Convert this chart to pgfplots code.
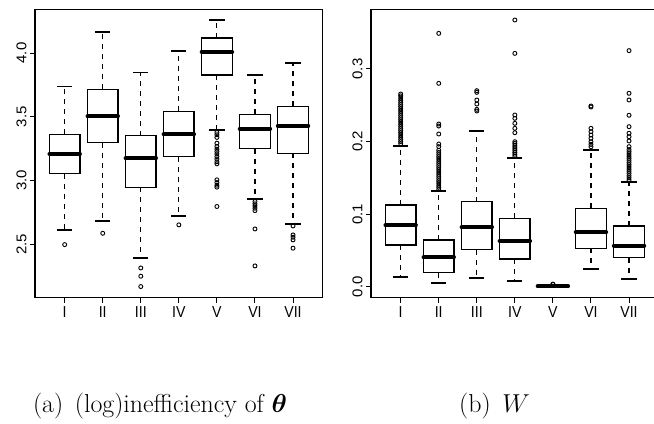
\RequirePackage{fix-cm}
\documentclass[border=0pt]{standalone}
\usepackage{amsmath}
\usepackage{fontspec}
\usepackage{bm}
\newfontfamily\arialf{Liberation Sans}
\usepackage{pgfplots}
\usepgfplotslibrary{statistics}
\pgfplotsset{compat=1.18}
\pgfplotsset{
  boxplot/draw/lower whisker/.code={%
    \draw[black, line width=1.1bp, dash pattern=on 5bp off 5bp]
      (boxplot box cs:\pgfplotsboxplotvalue{lower quartile},0.5) --
      (boxplot box cs:\pgfplotsboxplotvalue{lower whisker},0.5);
    \draw[black, solid, line width=1.8bp]
      (boxplot whisker cs:\pgfplotsboxplotvalue{lower whisker},0) --
      (boxplot whisker cs:\pgfplotsboxplotvalue{lower whisker},1);
  },
  boxplot/draw/upper whisker/.code={%
    \draw[black, line width=1.1bp, dash pattern=on 5bp off 5bp]
      (boxplot box cs:\pgfplotsboxplotvalue{upper quartile},0.5) --
      (boxplot box cs:\pgfplotsboxplotvalue{upper whisker},0.5);
    \draw[black, solid, line width=1.8bp]
      (boxplot whisker cs:\pgfplotsboxplotvalue{upper whisker},0) --
      (boxplot whisker cs:\pgfplotsboxplotvalue{upper whisker},1);
  },
  rbox/.style={
    width=287.7bp, height=288bp, scale only axis,
    xmin=0.22, xmax=7.78,
    xtick={1,2,3,4,5,6,7}, xticklabels={I,II,III,IV,V,VI,VII},
    tick pos=left, tick align=outside, major tick length=5bp,
    axis line style={line width=1.1bp},
    tick style={black, line width=1bp},
    tick label style={font=\arialf\fontsize{14.2}{15}\selectfont},
    xticklabel style={yscale=1.12},
    yticklabel style={rotate=90, xscale=1.06, anchor=south},
    boxplot/draw direction=y,
    boxplot/box extend=0.8,
    boxplot/whisker extend=0.4,
    boxplot/every median/.style={line width=4bp, line cap=round},
    /pgf/number format/.cd, fixed, fixed zerofill, precision=1, assume math mode=true,
  },
  rb/.style={black, line width=1.2bp, mark=o, mark size=2bp,
    mark options={line width=0.9bp, solid}},
}
\begin{document}
\begin{tikzpicture}
\path[use as bounding box] (0,0) rectangle (654bp,424bp);
% ---------- (a) ----------
\begin{axis}[rbox, at={(35bp,126.3bp)}, anchor=south west,
  ymin=2.0806, ymax=4.340, ytick={2.5,3,3.5,4}]
\addplot[rb, boxplot prepared={draw position=1, lower whisker=2.613, lower quartile=3.052, median=3.209, upper quartile=3.364, upper whisker=3.738}]
  table[row sep=\\, y index=0] {data\\ 2.497\\};
\addplot[rb, boxplot prepared={draw position=2, lower whisker=2.681, lower quartile=3.298, median=3.503, upper quartile=3.715, upper whisker=4.162}]
  table[row sep=\\, y index=0] {data\\ 2.586\\};
\addplot[rb, boxplot prepared={draw position=3, lower whisker=2.390, lower quartile=2.948, median=3.175, upper quartile=3.353, upper whisker=3.848}]
  table[row sep=\\, y index=0] {data\\ 2.314\\ 2.249\\ 2.168\\};
\addplot[rb, boxplot prepared={draw position=4, lower whisker=2.723, lower quartile=3.188, median=3.361, upper quartile=3.542, upper whisker=4.018}]
  table[row sep=\\, y index=0] {data\\ 2.652\\};
\addplot[rb, boxplot prepared={draw position=5, lower whisker=3.398, lower quartile=3.827, median=4.010, upper quartile=4.118, upper whisker=4.262}]
  table[row sep=\\, y index=0] {data\\ 3.377\\ 3.359\\ 3.338\\ 3.293\\ 3.267\\ 3.246\\ 3.228\\ 3.209\\ 3.188\\ 3.168\\ 3.147\\ 3.131\\ 3.005\\ 2.984\\ 2.963\\ 2.948\\ 2.796\\};
\addplot[rb, boxplot prepared={draw position=6, lower whisker=2.856, lower quartile=3.251, median=3.406, upper quartile=3.518, upper whisker=3.830}]
  table[row sep=\\, y index=0] {data\\ 2.835\\ 2.817\\ 2.801\\ 2.783\\ 2.764\\ 2.620\\ 2.330\\};
\addplot[rb, boxplot prepared={draw position=7, lower whisker=2.660, lower quartile=3.212, median=3.429, upper quartile=3.581, upper whisker=3.919}]
  table[row sep=\\, y index=0] {data\\ 2.644\\ 2.573\\ 2.555\\ 2.534\\ 2.469\\};
\end{axis}
% ---------- (b) ----------
\begin{axis}[rbox, at={(371bp,126.3bp)}, anchor=south west,
  ymin=-0.01516, ymax=0.3817, ytick={0,0.1,0.2,0.3}]
\addplot[rb, boxplot prepared={draw position=1, lower whisker=0.0129, lower quartile=0.0574, median=0.0845, upper quartile=0.1125, upper whisker=0.1943}]
  table[row sep=\\, y index=0] {data\\ 0.197\\ 0.200\\ 0.203\\ 0.206\\ 0.209\\ 0.212\\ 0.215\\ 0.218\\ 0.221\\ 0.224\\ 0.227\\ 0.230\\ 0.233\\ 0.236\\ 0.239\\ 0.242\\ 0.245\\ 0.248\\ 0.251\\ 0.254\\ 0.257\\ 0.260\\ 0.263\\ 0.2655\\};
\addplot[rb, boxplot prepared={draw position=2, lower whisker=0.0055, lower quartile=0.0193, median=0.0404, upper quartile=0.0643, upper whisker=0.1314}]
  table[row sep=\\, y index=0] {data\\ 0.134\\ 0.137\\ 0.140\\ 0.143\\ 0.146\\ 0.149\\ 0.152\\ 0.155\\ 0.158\\ 0.161\\ 0.164\\ 0.167\\ 0.170\\ 0.173\\ 0.176\\ 0.179\\ 0.182\\ 0.185\\ 0.188\\ 0.193\\ 0.1966\\ 0.2104\\ 0.2214\\ 0.2242\\ 0.2802\\ 0.3491\\};
\addplot[rb, boxplot prepared={draw position=3, lower whisker=0.0124, lower quartile=0.0510, median=0.0818, upper quartile=0.1171, upper whisker=0.2150}]
  table[row sep=\\, y index=0] {data\\ 0.2421\\ 0.2444\\ 0.2517\\ 0.2572\\ 0.2678\\ 0.2701\\};
\addplot[rb, boxplot prepared={draw position=4, lower whisker=0.0073, lower quartile=0.0381, median=0.0629, upper quartile=0.0942, upper whisker=0.1778}]
  table[row sep=\\, y index=0] {data\\ 0.180\\ 0.1825\\ 0.185\\ 0.1875\\ 0.190\\ 0.1925\\ 0.195\\ 0.1975\\ 0.1998\\ 0.2122\\ 0.2182\\ 0.2251\\ 0.2320\\ 0.2366\\ 0.3215\\ 0.3675\\};
\addplot[rb, boxplot prepared={draw position=5, lower whisker=0.0, lower quartile=0.0002, median=0.0006, upper quartile=0.0012, upper whisker=0.0026}]
  table[row sep=\\, y index=0] {data\\ 0.0030\\ 0.0036\\};
\addplot[rb, boxplot prepared={draw position=6, lower whisker=0.0239, lower quartile=0.0528, median=0.0749, upper quartile=0.1079, upper whisker=0.1888}]
  table[row sep=\\, y index=0] {data\\ 0.1929\\ 0.1961\\ 0.1998\\ 0.2044\\ 0.2090\\ 0.2136\\ 0.2182\\ 0.2476\\ 0.2490\\};
\addplot[rb, boxplot prepared={draw position=7, lower whisker=0.0102, lower quartile=0.0400, median=0.0565, upper quartile=0.0837, upper whisker=0.1447}]
  table[row sep=\\, y index=0] {data\\ 0.147\\ 0.150\\ 0.153\\ 0.156\\ 0.159\\ 0.162\\ 0.165\\ 0.168\\ 0.171\\ 0.174\\ 0.177\\ 0.180\\ 0.183\\ 0.186\\ 0.189\\ 0.193\\ 0.2008\\ 0.2067\\ 0.2114\\ 0.2205\\ 0.2362\\ 0.2573\\ 0.2665\\ 0.3253\\};
\end{axis}
% ---------- captions ----------
\node[anchor=base, inner sep=0pt] at (160bp,12bp)
  {\fontsize{26}{30}\selectfont (a)\hspace{0.45em}(log)inefficiency of $\bm{\theta}$};
\node[anchor=base, inner sep=0pt] at (494.5bp,12bp)
  {\fontsize{26}{30}\selectfont (b)\hspace{0.45em}$W$};
\end{tikzpicture}
\end{document}
